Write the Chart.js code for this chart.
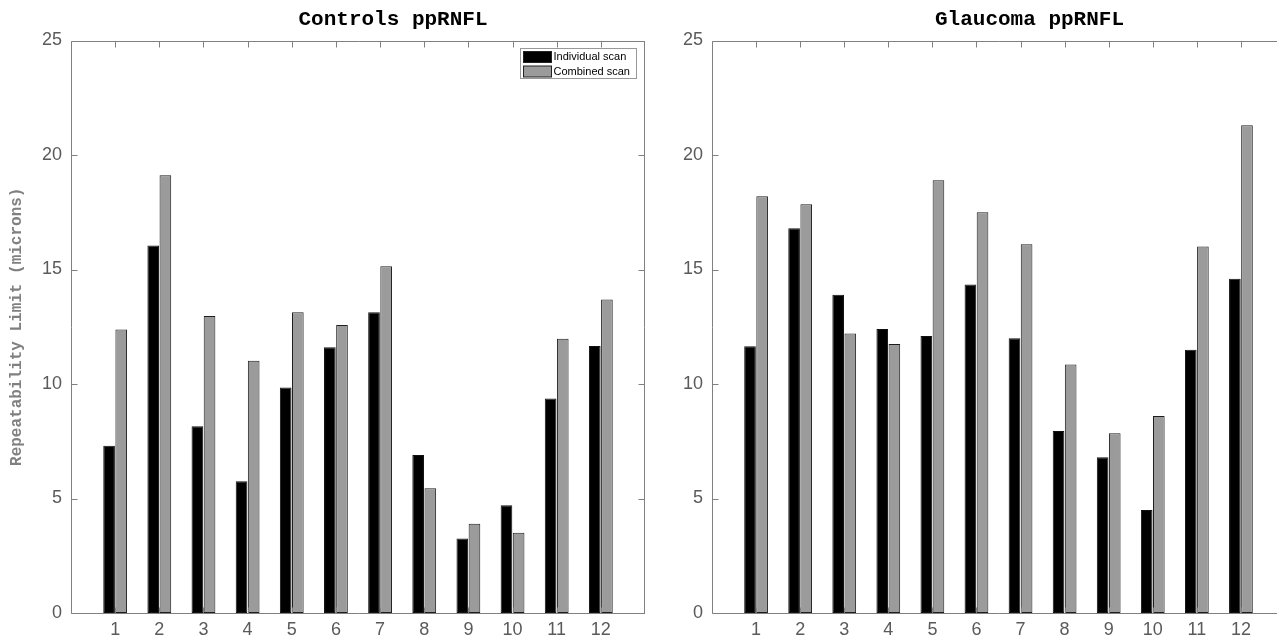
<!DOCTYPE html>
<html>
<head>
<meta charset="utf-8">
<script src="https://cdn.jsdelivr.net/npm/chart.js@4/dist/chart.umd.min.js"></script>
<style>
	body { margin: 0; background: #fff; width: 1277px; height: 639px; overflow: hidden; position: relative; }
	canvas { position: absolute; top: 0; }
</style>
</head>
<body>
<canvas id="controls" width="660" height="639" style="left:0"></canvas>
<canvas id="glaucoma" width="780" height="639" style="left:640px"></canvas>
<script>
// scan numbers along the x axis
const scans = [1, 2, 3, 4, 5, 6, 7, 8, 9, 10, 11, 12];
const yTicks = [0, 5, 10, 15, 20, 25];
const seriesNames = ["Individual scan", "Combined scan"];

const controlsIndividual = [7.3, 16.05, 8.15, 5.75, 9.85, 11.6, 13.13, 6.9, 3.25, 4.7, 9.37, 11.66];
const controlsCombined = [12.38, 19.12, 12.97, 11.02, 13.13, 12.58, 15.14, 5.45, 3.9, 3.5, 11.98, 13.69];

const glaucomaIndividual = [11.65, 16.8, 13.9, 12.4, 12.1, 14.35, 12.0, 7.95, 6.8, 4.5, 11.5, 14.6];
const glaucomaCombined = [18.2, 17.85, 12.2, 11.75, 18.9, 17.5, 16.1, 10.85, 7.85, 8.6, 16.0, 21.3];

const axisGray = "#808080";
const labelGray = "#5a5a5a";

// matlab style box with inward ticks
const axesBox = {
	id: "axesBox",
	afterDatasetsDraw(chart, args, opts) {
		let { ctx, chartArea: a, scales } = chart;
		let x = scales.x;
		let y = scales.y;
		let L = a.left + 0.5;
		let B = Math.round(a.bottom) + 0.5;
		let T = Math.round(a.top) + 0.5;
		let R = Math.round(a.right) - 0.5;
		ctx.save();
		ctx.strokeStyle = axisGray;
		ctx.lineWidth = 1;
		ctx.beginPath();
		ctx.moveTo(L, T);
		ctx.lineTo(L, B);
		ctx.lineTo(a.right, B);
		ctx.moveTo(L, T);
		ctx.lineTo(a.right, T);
		if (opts.right) {
			ctx.moveTo(R, T);
			ctx.lineTo(R, B);
		}
		for (let t of y.ticks) {
			let py = Math.round(y.getPixelForValue(t.value)) + 0.5;
			ctx.moveTo(L, py);
			ctx.lineTo(L + 6, py);
			if (opts.right) {
				ctx.moveTo(R, py);
				ctx.lineTo(R - 6, py);
			}
		}
		for (let t of x.ticks) {
			let px = Math.round(x.getPixelForValue(t.value)) + 0.5;
			ctx.moveTo(px, T);
			ctx.lineTo(px, T + 6);
			ctx.moveTo(px, B);
			ctx.lineTo(px, B - 6);
		}
		ctx.stroke();
		ctx.restore();
	},
};

// axes title, sits a little right of the axes centre like the original figure
const axTitle = {
	id: "axTitle",
	afterDraw(chart, args, opts) {
		let { ctx, chartArea: a } = chart;
		ctx.save();
		ctx.font = "bold 21px 'Liberation Mono', 'Courier New', monospace";
		ctx.fillStyle = "#000";
		ctx.textAlign = "center";
		ctx.textBaseline = "middle";
		ctx.fillText(opts.text, (a.left + a.right) / 2 + opts.shift, 20);
		ctx.restore();
	},
};

// legend box in the top right corner of the axes
const boxLegend = {
	id: "boxLegend",
	afterDraw(chart, args, opts) {
		if (!opts.show) return;
		let { ctx, chartArea: a } = chart;
		let w = 116;
		let h = 30;
		let left = Math.round(a.right) - 9 - w + 0.5;
		let top = Math.round(a.top) + 7 + 0.5;
		ctx.save();
		ctx.fillStyle = "#fff";
		ctx.fillRect(left, top, w, h);
		ctx.strokeStyle = "#999";
		ctx.lineWidth = 1;
		ctx.strokeRect(left, top, w, h);
		ctx.font = "11px 'Liberation Sans', Arial, sans-serif";
		ctx.textBaseline = "middle";
		chart.data.datasets.forEach((ds, i) => {
			let cy = top + 8 + i * 14.5;
			ctx.fillStyle = ds.backgroundColor;
			ctx.fillRect(left + 3, cy - 5, 28, 11);
			ctx.strokeStyle = "#222";
			ctx.strokeRect(left + 3, cy - 5, 28, 11);
			ctx.fillStyle = "#000";
			ctx.fillText(ds.label, left + 33, cy + 0.5);
		});
		ctx.restore();
	},
};

function makeChart(id, title, shift, individual, combined, yWidth, padRight, showYTitle, showLegend, rightBox) {
	return new Chart(document.getElementById(id), {
		type: "bar",
		data: {
			labels: scans,
			datasets: [
				{
					label: seriesNames[0],
					data: individual,
					backgroundColor: "#000000",
					borderColor: "#111111",
					borderWidth: 1,
					borderSkipped: false,
				},
				{
					label: seriesNames[1],
					data: combined,
					backgroundColor: "#9b9b9b",
					borderColor: "#1e1e1e",
					borderWidth: 1,
					borderSkipped: false,
				},
			],
		},
		plugins: [axesBox, axTitle, boxLegend],
		options: {
			responsive: false,
			animation: false,
			devicePixelRatio: 1,
			categoryPercentage: 0.55,
			barPercentage: 0.96,
			layout: { padding: { left: 0, right: padRight, top: 40.5, bottom: 0 } },
			plugins: {
				legend: { display: false },
				tooltip: { enabled: false },
				title: { display: false },
				axTitle: { text: title, shift: shift },
				axesBox: { right: rightBox },
				boxLegend: { show: showLegend },
			},
			scales: {
				x: {
					type: "linear",
					min: 0,
					max: 13,
					offset: false,
					grid: { display: false, offset: false, drawTicks: false },
					border: { display: false },
					afterBuildTicks: (scale) => {
						scale.ticks = scans.map((v) => ({ value: v }));
					},
					afterFit: (scale) => {
						scale.height = 26;
					},
					ticks: {
						color: labelGray,
						padding: 6,
						maxRotation: 0,
						autoSkip: false,
						font: { family: "'Liberation Sans', Arial, sans-serif", size: 18 },
					},
				},
				y: {
					min: 0,
					max: 25,
					grid: { display: false, drawTicks: false },
					border: { display: false },
					afterBuildTicks: (scale) => {
						scale.ticks = yTicks.map((v) => ({ value: v }));
					},
					afterFit: (scale) => {
						scale.width = yWidth;
					},
					ticks: {
						color: labelGray,
						padding: 9,
						font: { family: "'Liberation Sans', Arial, sans-serif", size: 18 },
					},
					title: {
						display: showYTitle,
						text: "Repeatability Limit (microns)",
						color: "#808080",
						font: { family: "'Liberation Mono', 'Courier New', monospace", size: 16, weight: "bold" },
						padding: { top: 7.4, bottom: 0 },
					},
				},
			},
		},
	});
}

makeChart("controls", "Controls ppRNFL", 35, controlsIndividual, controlsCombined, 71, 660 - 645, true, true, true);
makeChart("glaucoma", "Glaucoma ppRNFL", 31, glaucomaIndividual, glaucomaCombined, 72, 780 - 645, false, false, false);
</script>
</body>
</html>
